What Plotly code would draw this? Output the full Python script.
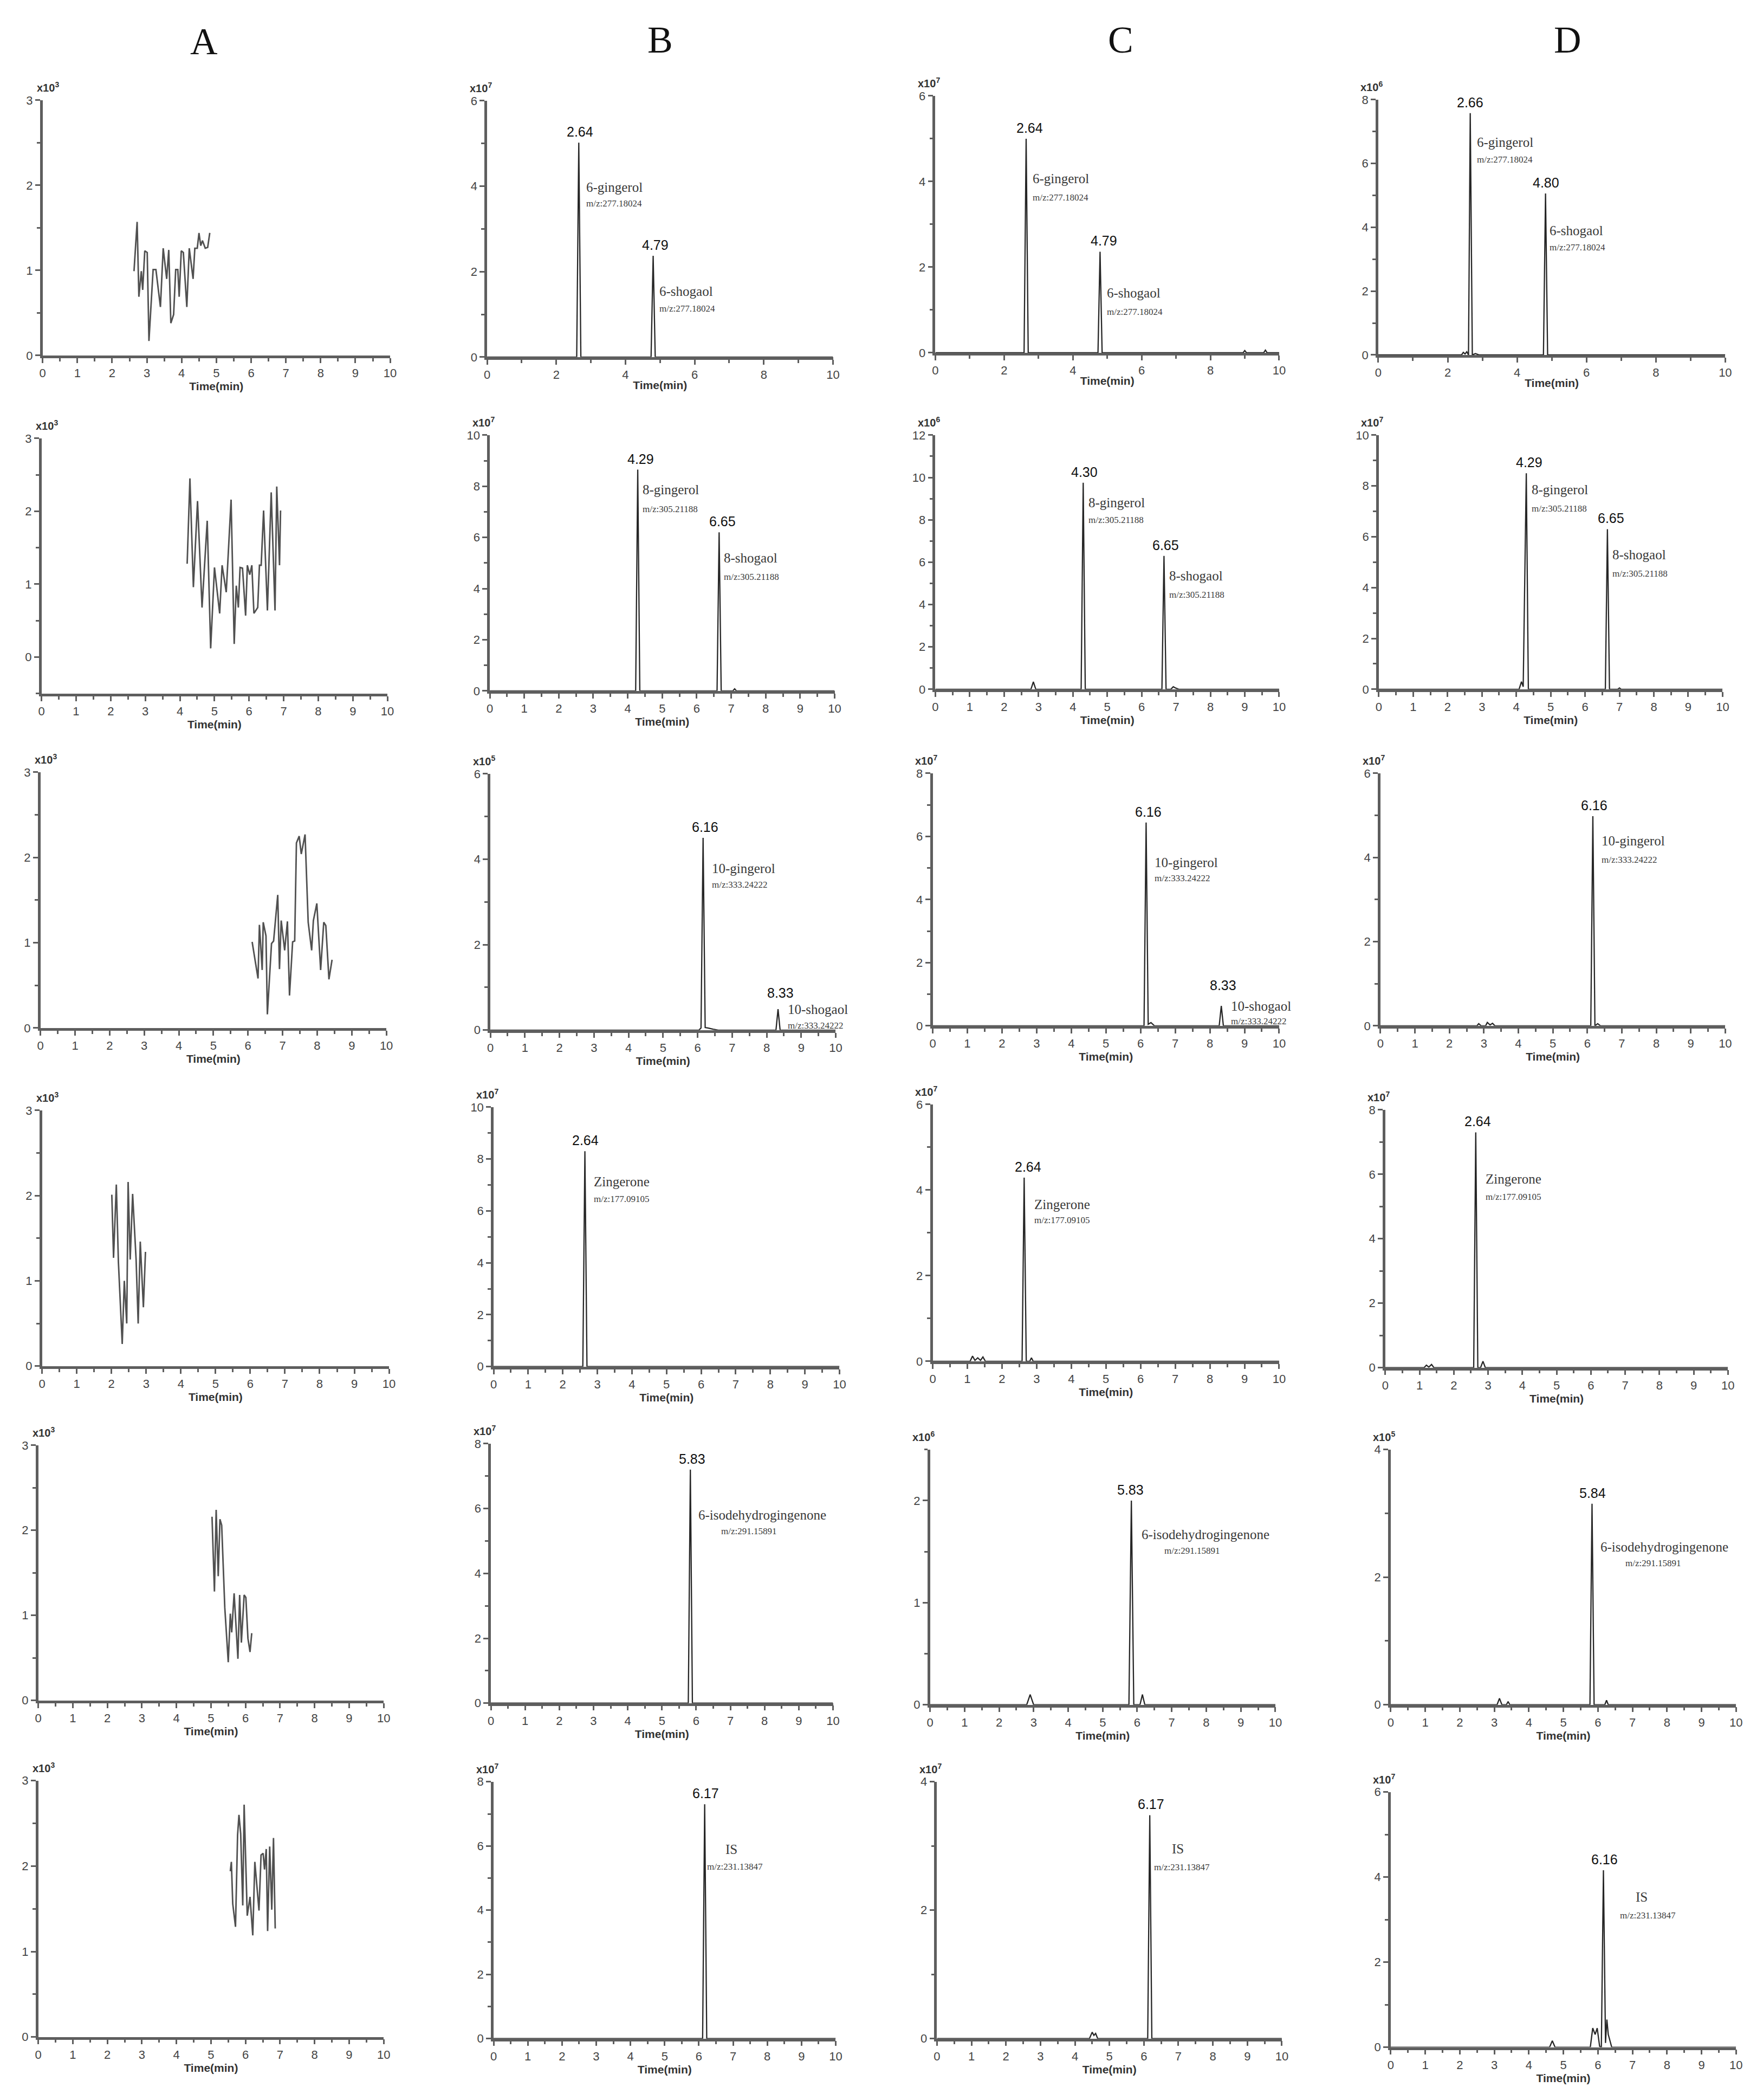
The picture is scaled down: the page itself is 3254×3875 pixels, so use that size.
import plotly.graph_objects as go

W, H = 3254, 3875

# ---------------- data: column A (blank, noise traces, x10^3) ----------------
A1_t = [2.63, 2.72, 2.77, 2.84, 2.88, 2.94, 3.01, 3.06, 3.18, 3.26, 3.39, 3.47, 3.57, 3.63, 3.69, 3.77,
        3.83, 3.89, 3.93, 3.99, 4.05, 4.15, 4.22, 4.33, 4.38, 4.45, 4.50, 4.55, 4.60, 4.68, 4.75, 4.81]
A1_v = [0.99, 1.57, 0.69, 0.99, 0.77, 1.23, 1.21, 0.17, 1.01, 1.01, 0.57, 1.26, 0.90, 1.24, 0.38, 0.48,
        1.01, 1.01, 0.69, 1.23, 1.21, 0.57, 1.26, 0.90, 1.26, 1.26, 1.44, 1.29, 1.35, 1.26, 1.27, 1.44]
A2_t = [4.21, 4.29, 4.39, 4.51, 4.64, 4.79, 4.89, 5.00, 5.15, 5.22, 5.34, 5.48, 5.57, 5.63, 5.69, 5.74,
        5.81, 5.90, 5.95, 6.02, 6.08, 6.14, 6.25, 6.30, 6.35, 6.42, 6.53, 6.64, 6.75, 6.80, 6.88, 6.91]
A2_v = [1.28, 2.45, 0.96, 2.14, 0.68, 1.87, 0.12, 1.23, 0.60, 1.26, 0.89, 2.16, 0.18, 0.98, 0.68, 1.23,
        1.22, 0.57, 1.26, 1.13, 1.26, 0.60, 0.68, 1.26, 1.26, 2.01, 0.64, 2.26, 0.64, 2.34, 1.26, 2.01]
A3_t = [6.12, 6.29, 6.33, 6.41, 6.44, 6.52, 6.56, 6.68, 6.74, 6.86, 6.91, 6.96, 7.06, 7.14, 7.20, 7.29,
        7.35, 7.40, 7.48, 7.54, 7.65, 7.74, 7.84, 7.89, 7.99, 8.10, 8.19, 8.25, 8.34, 8.43]
A3_v = [1.01, 0.58, 1.21, 0.68, 1.24, 1.08, 0.16, 0.99, 1.02, 1.56, 0.69, 1.26, 0.91, 1.25, 0.38, 1.01,
        1.02, 2.17, 2.25, 2.04, 2.27, 1.24, 0.91, 1.26, 1.46, 0.68, 1.24, 1.20, 0.57, 0.80]
A4_t = [2.01, 2.06, 2.14, 2.20, 2.31, 2.37, 2.44, 2.48, 2.54, 2.61, 2.71, 2.77, 2.83, 2.92, 2.98]
A4_v = [2.01, 1.27, 2.13, 1.22, 0.26, 1.00, 0.50, 2.16, 1.25, 2.02, 1.25, 0.50, 1.46, 0.69, 1.34]
A5_t = [5.03, 5.10, 5.15, 5.21, 5.26, 5.31, 5.40, 5.50, 5.56, 5.60, 5.67, 5.78, 5.83, 5.88, 5.96, 6.01,
        6.07, 6.13, 6.18]
A5_v = [2.16, 1.28, 2.24, 1.46, 2.13, 2.06, 1.09, 0.45, 1.02, 0.80, 1.26, 0.49, 1.24, 0.68, 1.24, 1.21,
        0.73, 0.57, 0.79]
A6_t = [5.56, 5.59, 5.63, 5.71, 5.77, 5.81, 5.86, 5.92, 5.96, 6.05, 6.13, 6.21, 6.27, 6.39, 6.45, 6.51,
        6.55, 6.60, 6.64, 6.70, 6.76, 6.81, 6.86]
A6_v = [1.94, 2.05, 1.56, 1.29, 2.36, 2.60, 2.38, 1.54, 2.72, 1.42, 1.64, 1.19, 2.05, 1.48, 2.13, 2.15,
        1.96, 2.20, 1.24, 2.23, 1.49, 2.33, 1.27]

# ---------------- data: columns B, C, D (chromatograms) ----------------
B1_t = [0, 2.59, 2.65, 2.71, 4.74, 4.80, 4.86, 10]
B1_v = [0, 0, 5.02, 0, 0, 2.37, 0, 0]
C1_t = [0, 2.58, 2.64, 2.70, 4.73, 4.79, 4.85, 8.95, 9.0, 9.05, 9.55, 9.6, 9.65, 10]
C1_v = [0, 0, 5.00, 0, 0, 2.36, 0, 0, 0.05, 0, 0, 0.06, 0, 0]
D1_t = [0, 2.40, 2.45, 2.50, 2.55, 2.60, 2.65, 2.71, 2.80, 2.90, 4.76, 4.82, 4.88, 10]
D1_v = [0, 0, 0.08, 0.03, 0.10, 0, 7.58, 0, 0.04, 0, 0, 5.06, 0, 0]

B2_t = [0, 4.23, 4.29, 4.35, 6.59, 6.65, 6.71, 7.05, 7.10, 7.15, 10]
B2_v = [0, 0, 8.65, 0, 0, 6.20, 0, 0, 0.08, 0, 0]
C2_t = [0, 2.78, 2.85, 2.92, 4.24, 4.30, 4.36, 6.59, 6.65, 6.71, 6.85, 6.92, 7.0, 7.08, 10]
C2_v = [0, 0, 0.35, 0, 0, 9.75, 0, 0, 6.30, 0, 0, 0.12, 0.05, 0, 0]
D2_t = [0, 4.08, 4.15, 4.20, 4.29, 4.35, 6.59, 6.65, 6.71, 6.95, 7.0, 7.05, 10]
D2_v = [0, 0, 0.30, 0.10, 8.50, 0, 0, 6.30, 0, 0, 0.05, 0, 0]

B3_t = [0, 6.04, 6.10, 6.16, 6.22, 6.30, 6.45, 6.60, 8.27, 8.33, 8.39, 10]
B3_v = [0, 0, 0.05, 4.50, 0.06, 0.05, 0.02, 0, 0, 0.49, 0, 0]
C3_t = [0, 6.10, 6.16, 6.22, 6.30, 6.40, 8.27, 8.33, 8.39, 10]
C3_v = [0, 0, 6.44, 0.05, 0.10, 0, 0, 0.63, 0, 0]
D3_t = [0, 2.80, 2.85, 2.92, 3.05, 3.10, 3.18, 3.25, 3.32, 6.10, 6.16, 6.22, 6.30, 6.38, 10]
D3_v = [0, 0, 0.05, 0, 0, 0.08, 0.02, 0.06, 0, 0, 4.98, 0, 0.05, 0, 0]

B4_t = [0, 2.58, 2.64, 2.70, 10]
B4_v = [0, 0, 8.30, 0, 0]
C4_t = [0, 1.08, 1.15, 1.22, 1.30, 1.38, 1.45, 1.52, 2.58, 2.64, 2.70, 2.80, 2.85, 2.90, 10]
C4_v = [0, 0, 0.12, 0.02, 0.08, 0.02, 0.10, 0, 0, 4.29, 0, 0, 0.08, 0, 0]
D4_t = [0, 1.13, 1.20, 1.27, 1.35, 1.42, 2.58, 2.64, 2.70, 2.78, 2.85, 2.92, 10]
D4_v = [0, 0, 0.08, 0.02, 0.10, 0, 0, 7.30, 0, 0, 0.20, 0, 0]

B5_t = [0, 5.77, 5.83, 5.89, 10]
B5_v = [0, 0, 7.20, 0, 0]
C5_t = [0, 2.80, 2.90, 3.00, 5.76, 5.83, 5.90, 6.08, 6.15, 6.22, 10]
C5_v = [0, 0, 0.10, 0, 0, 2.00, 0, 0, 0.10, 0, 0]
D5_t = [0, 3.08, 3.15, 3.22, 3.35, 3.40, 3.45, 5.77, 5.83, 5.89, 6.20, 6.25, 6.30, 10]
D5_v = [0, 0, 0.10, 0, 0, 0.05, 0, 0, 3.15, 0, 0, 0.07, 0, 0]

B6_t = [0, 6.11, 6.17, 6.23, 10]
B6_v = [0, 0, 7.30, 0, 0]
C6_t = [0, 4.42, 4.50, 4.55, 4.60, 4.66, 6.11, 6.17, 6.23, 10]
C6_v = [0, 0, 0.10, 0.05, 0.08, 0, 0, 3.48, 0, 0]
D6_t = [0, 4.60, 4.68, 4.76, 5.78, 5.85, 5.92, 5.98, 6.05, 6.10, 6.16, 6.22, 6.26, 6.30, 6.40, 10]
D6_v = [0, 0, 0.15, 0, 0, 0.45, 0.30, 0.45, 0.02, 0, 4.16, 0.10, 0.65, 0.30, 0, 0]

column_titles = ["A", "B", "C", "D"]

# exponents of the y scale (x10^n), per row, per column
exponents = [[3, 7, 7, 6],
             [3, 7, 6, 7],
             [3, 5, 7, 7],
             [3, 7, 7, 7],
             [3, 7, 6, 5],
             [3, 7, 7, 7]]

# y-axis (min, max, major step) per row, per column
y_scales = [[(0, 3, 1), (0, 6, 2), (0, 6, 2), (0, 8, 2)],
            [(-0.5, 3, 1), (0, 10, 2), (0, 12, 2), (0, 10, 2)],
            [(0, 3, 1), (0, 6, 2), (0, 8, 2), (0, 6, 2)],
            [(0, 3, 1), (0, 10, 2), (0, 6, 2), (0, 8, 2)],
            [(0, 3, 1), (0, 8, 2), (0, 2.5, 1), (0, 4, 2)],
            [(0, 3, 1), (0, 8, 2), (0, 4, 2), (0, 6, 2)]]

series = [[(A1_t, A1_v), (B1_t, B1_v), (C1_t, C1_v), (D1_t, D1_v)],
          [(A2_t, A2_v), (B2_t, B2_v), (C2_t, C2_v), (D2_t, D2_v)],
          [(A3_t, A3_v), (B3_t, B3_v), (C3_t, C3_v), (D3_t, D3_v)],
          [(A4_t, A4_v), (B4_t, B4_v), (C4_t, C4_v), (D4_t, D4_v)],
          [(A5_t, A5_v), (B5_t, B5_v), (C5_t, C5_v), (D5_t, D5_v)],
          [(A6_t, A6_v), (B6_t, B6_v), (C6_t, C6_v), (D6_t, D6_v)]]

# peak / compound labels (kind, text, x, y) in data coordinates
MZ6, MZ8, MZ10 = "m/z:277.18024", "m/z:305.21188", "m/z:333.24222"
MZZ, MZI, MZS = "m/z:177.09105", "m/z:291.15891", "m/z:231.13847"
labels = {
    (0, 1): [("rt", "2.64", 2.68, 5.02), ("name", "6-gingerol", 2.83, 3.98), ("mz", MZ6, 2.83, 3.60),
             ("rt", "4.79", 4.86, 2.37), ("name", "6-shogaol", 4.95, 1.54), ("mz", MZ6, 4.95, 1.13)],
    (0, 2): [("rt", "2.64", 2.75, 5.00), ("name", "6-gingerol", 2.80, 4.07), ("mz", MZ6, 2.80, 3.63),
             ("rt", "4.79", 4.90, 2.36), ("name", "6-shogaol", 4.95, 1.40), ("mz", MZ6, 4.95, 0.95)],
    (0, 3): [("rt", "2.66", 2.65, 7.58), ("name", "6-gingerol", 2.81, 6.66), ("mz", MZ6, 2.81, 6.13),
             ("rt", "4.80", 4.83, 5.06), ("name", "6-shogaol", 4.91, 3.90), ("mz", MZ6, 4.91, 3.37)],
    (1, 1): [("rt", "4.29", 4.38, 8.65), ("name", "8-gingerol", 4.40, 7.86), ("mz", MZ8, 4.40, 7.10),
             ("rt", "6.65", 6.75, 6.20), ("name", "8-shogaol", 6.76, 5.20), ("mz", MZ8, 6.76, 4.45)],
    (1, 2): [("rt", "4.30", 4.33, 9.75), ("name", "8-gingerol", 4.42, 8.80), ("mz", MZ8, 4.42, 8.00),
             ("rt", "6.65", 6.70, 6.30), ("name", "8-shogaol", 6.77, 5.35), ("mz", MZ8, 6.77, 4.45)],
    (1, 3): [("rt", "4.29", 4.38, 8.50), ("name", "8-gingerol", 4.41, 7.85), ("mz", MZ8, 4.41, 7.10),
             ("rt", "6.65", 6.75, 6.30), ("name", "8-shogaol", 6.77, 5.30), ("mz", MZ8, 6.77, 4.55)],
    (2, 1): [("rt", "6.16", 6.22, 4.50), ("name", "10-gingerol", 6.38, 3.79), ("mz", MZ10, 6.38, 3.41),
             ("rt", "8.33", 8.40, 0.62), ("name", "10-shogaol", 8.58, 0.48), ("mz", MZ10, 8.58, 0.10)],
    (2, 2): [("rt", "6.16", 6.22, 6.44), ("name", "10-gingerol", 6.38, 5.18), ("mz", MZ10, 6.38, 4.67),
             ("rt", "8.33", 8.38, 0.95), ("name", "10-shogaol", 8.58, 0.62), ("mz", MZ10, 8.58, 0.15)],
    (2, 3): [("rt", "6.16", 6.20, 4.98), ("name", "10-gingerol", 6.38, 4.39), ("mz", MZ10, 6.38, 3.94)],
    (3, 1): [("rt", "2.64", 2.66, 8.30), ("name", "Zingerone", 2.86, 7.13), ("mz", MZZ, 2.86, 6.46)],
    (3, 2): [("rt", "2.64", 2.75, 4.29), ("name", "Zingerone", 2.90, 3.66), ("mz", MZZ, 2.90, 3.29)],
    (3, 3): [("rt", "2.64", 2.70, 7.30), ("name", "Zingerone", 2.90, 5.86), ("mz", MZZ, 2.90, 5.30)],
    (4, 1): [("rt", "5.83", 5.88, 7.20), ("name", "6-isodehydrogingenone", 6.03, 5.80), ("mz", MZI, 6.70, 5.30)],
    (4, 2): [("rt", "5.83", 5.81, 2.00), ("name", "6-isodehydrogingenone", 6.09, 1.67), ("mz", MZI, 6.76, 1.51)],
    (4, 3): [("rt", "5.84", 5.85, 3.15), ("name", "6-isodehydrogingenone", 6.05, 2.47), ("mz", MZI, 6.76, 2.22)],
    (5, 1): [("rt", "6.17", 6.20, 7.30), ("namec", "IS", 6.95, 5.90), ("mzc", MZS, 7.05, 5.35)],
    (5, 2): [("rt", "6.17", 6.20, 3.48), ("namec", "IS", 6.99, 2.96), ("mzc", MZS, 7.10, 2.67)],
    (5, 3): [("rt", "6.16", 6.19, 4.16), ("namec", "IS", 7.26, 3.53), ("mzc", MZS, 7.45, 3.10)],
}

# ---------------- layout geometry (pixels): x at t=0, x at t=10, y of bottom, y of top ----------------
geom = [[(65, 710, 640, 166), (890, 1532, 643, 167), (1722, 2360, 635, 158), (2544, 3188, 639, 165)],
        [(63, 705, 1268, 794), (895, 1535, 1263, 788), (1722, 2360, 1260, 788), (2545, 3183, 1260, 788)],
        [(61, 703, 1889, 1414), (896, 1537, 1893, 1417), (1717, 2360, 1885, 1416), (2548, 3188, 1885, 1416)],
        [(64, 708, 2517, 2042), (902, 1544, 2518, 2036), (1717, 2360, 2508, 2031), (2557, 3193, 2520, 2041)],
        [(57, 698, 3138, 2664), (897, 1532, 3143, 2661), (1712, 2353, 3146, 2672), (2567, 3208, 3146, 2672)],
        [(57, 698, 3763, 3287), (902, 1537, 3766, 3289), (1725, 2365, 3766, 3289), (2567, 3208, 3782, 3308)]]
header_pos = [(365, 57), (1211, 54), (2066, 54), (2896, 54)]

AX = "#5e5e5e"
TXT = "#444444"
SANS = "Liberation Sans, Arial, sans-serif"
SERIF = "Liberation Serif, Times New Roman, serif"

fig = go.Figure()
layout = {}
annotations = []

idx = 0
for r in range(6):
    for c in range(4):
        idx += 1
        key = "" if idx == 1 else str(idx)
        xa, ya = "x" + key, "y" + key
        t, v = series[r][c]
        fig.add_trace(go.Scatter(
            x=t, y=v, mode="lines", xaxis=xa, yaxis=ya, showlegend=False, hoverinfo="skip",
            line=dict(color="#505050" if c == 0 else "#262626", width=2.8 if c == 0 else 2.3)))
        x0, x10, yb, yt = geom[r][c]
        ymin, ymax, ystep = y_scales[r][c]
        xdt = 2 if (r == 0 and c > 0) else 1
        layout["xaxis" + key] = dict(
            domain=[x0 / W, x10 / W], anchor=ya, range=[0, 10],
            showline=True, linecolor=AX, linewidth=4.5, mirror=False,
            ticks="outside", ticklen=9, tickwidth=3, tickcolor=AX,
            tick0=0, dtick=xdt, showgrid=False, zeroline=False,
            minor=dict(ticks="outside", ticklen=6, tickwidth=2.5, tickcolor=AX, dtick=xdt / 2, tick0=0),
            tickfont=dict(family=SANS, size=22, color=TXT),
            title=dict(text="<b>Time(min)</b>", font=dict(family=SANS, size=21, color="#333333"), standoff=2),
        )
        layout["yaxis" + key] = dict(
            domain=[1 - yb / H, 1 - yt / H], anchor=xa, range=[ymin, ymax],
            showline=True, linecolor=AX, linewidth=4.5, mirror=False,
            ticks="outside", ticklen=9, tickwidth=3, tickcolor=AX,
            tick0=0, dtick=ystep, showgrid=False, zeroline=False,
            minor=dict(ticks="outside", ticklen=6, tickwidth=2.5, tickcolor=AX, dtick=ystep / 2, tick0=0),
            tickfont=dict(family=SANS, size=22, color=TXT),
        )
        # exponent label
        annotations.append(dict(
            text="<b>x10<sup>%d</sup></b>" % exponents[r][c], xref=xa + " domain", yref=ya + " domain",
            x=0, y=1, xanchor="center", yanchor="bottom", xshift=10 if c == 0 else -12, yshift=10,
            showarrow=False, font=dict(family=SANS, size=20, color="#333333")))
        # peak / compound labels
        for kind, text, lx, ly in labels.get((r, c), []):
            if kind == "rt":
                annotations.append(dict(text=text, x=lx, y=ly, xref=xa, yref=ya, showarrow=False,
                                        xanchor="center", yanchor="bottom", yshift=4,
                                        font=dict(family=SANS, size=25, color="#111111")))
            elif kind in ("name", "namec"):
                annotations.append(dict(text=text, x=lx, y=ly, xref=xa, yref=ya, showarrow=False,
                                        xanchor="left" if kind == "name" else "center", yanchor="middle",
                                        font=dict(family=SERIF, size=25, color="#3a3a3a")))
            else:
                annotations.append(dict(text=text, x=lx, y=ly, xref=xa, yref=ya, showarrow=False,
                                        xanchor="left" if kind == "mz" else "center", yanchor="middle",
                                        font=dict(family=SERIF, size=17, color="#3a3a3a")))

for (hx, hy), title in zip(header_pos, column_titles):
    annotations.append(dict(text=title, x=hx / W, y=1 - hy / H, xref="paper", yref="paper",
                            xanchor="center", yanchor="middle", showarrow=False,
                            font=dict(family=SERIF, size=70, color="#111111")))

fig.update_layout(
    width=W, height=H, margin=dict(l=0, r=0, t=0, b=0),
    paper_bgcolor="white", plot_bgcolor="white",
    annotations=annotations, **layout)

fig.write_html("out.html")
